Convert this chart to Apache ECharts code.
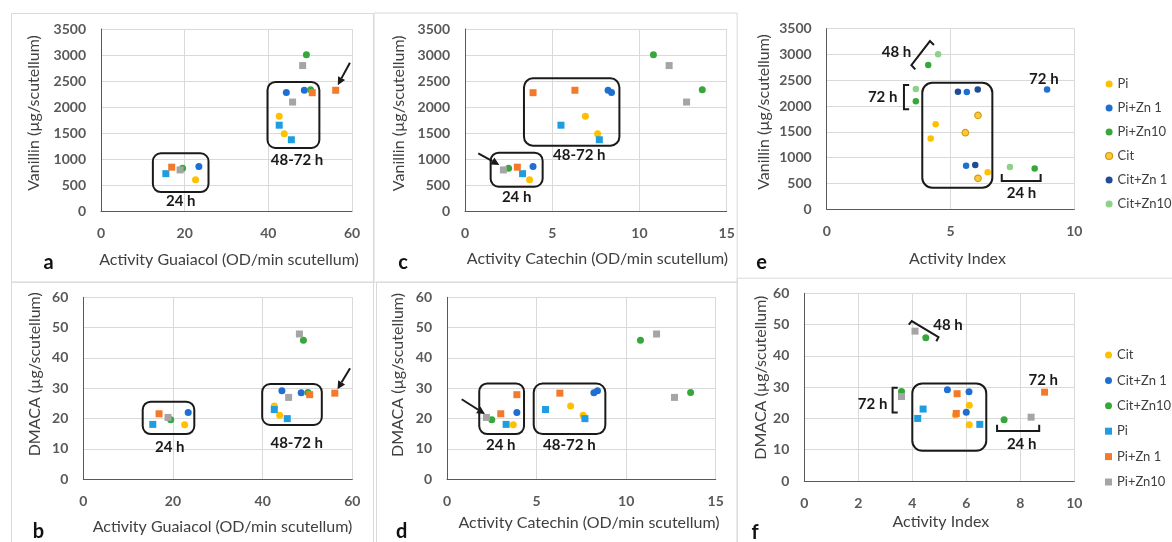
<!DOCTYPE html>
<html>
<head>
<meta charset="utf-8">
<script src="https://cdn.jsdelivr.net/npm/echarts@6/dist/echarts.min.js"></script>
<style>
  html, body { margin: 0; padding: 0; background: #ffffff; }
  #chart { width: 1172px; height: 542px; }
</style>
</head>
<body>
<div id="chart"></div>
<script>
// Treatment groups (row order of every measurement table below)
const groups = ['Cit', 'Cit+Zn 1', 'Cit+Zn10', 'Pi', 'Pi+Zn 1', 'Pi+Zn10'];
// Sampling times (column order of every measurement table below)
const times = ['24 h', '48 h', '72 h'];

// Peroxidase activity with guaiacol (OD/min scutellum)
const guaiacol = [
  [22.6, 42.6, 43.8],
  [23.4, 44.3, 48.6],
  [19.5, 49.1, 50.1],
  [15.5, 42.6, 45.5],
  [16.9, 50.5, 56.1],
  [18.9, 48.2, 45.8]
];
// Peroxidase activity with catechin (OD/min scutellum)
const catechin = [
  [3.7, 6.9, 7.6],
  [3.9, 8.4, 8.2],
  [2.5, 10.8, 13.6],
  [3.3, 5.5, 7.7],
  [3.0, 3.9, 6.3],
  [2.2, 11.7, 12.7]
];
// Activity index
const activityIndex = [
  [6.11, 6.11, 5.6],
  [6.0, 5.3, 6.1],
  [7.4, 4.5, 3.6],
  [6.5, 4.4, 4.2],
  [5.63, 5.66, 8.9],
  [8.4, 4.1, 3.6]
];
// Vanillin assay (µg/scutellum)
const vanillin = [
  [600, 1820, 1485],
  [858, 2280, 2322],
  [822, 3005, 2330],
  [718, 1650, 1370],
  [843, 2275, 2322],
  [790, 2797, 2095]
];
// DMACA assay (µg/scutellum)
const dmaca = [
  [18.0, 24.2, 21.1],
  [22.0, 29.2, 28.5],
  [19.6, 45.8, 28.6],
  [18.1, 23.0, 20.0],
  [21.6, 27.9, 28.4],
  [20.4, 47.9, 27.0]
];

// Legend orders of the two right-hand panels
const legendE = ['Pi', 'Pi+Zn 1', 'Pi+Zn10', 'Cit', 'Cit+Zn 1', 'Cit+Zn10'];
const legendF = ['Cit', 'Cit+Zn 1', 'Cit+Zn10', 'Pi', 'Pi+Zn 1', 'Pi+Zn10'];

const FONT = 'Lato, "Open Sans", "DejaVu Sans", sans-serif';

// Marker styles: panels a–d and f
const markStd = {
  'Cit':      { symbol: 'circle', color: '#FFC000' },
  'Cit+Zn 1': { symbol: 'circle', color: '#1F6FD1' },
  'Cit+Zn10': { symbol: 'circle', color: '#36A83B' },
  'Pi':       { symbol: 'rect',   color: '#1E9DE0' },
  'Pi+Zn 1':  { symbol: 'rect',   color: '#F47A2B' },
  'Pi+Zn10':  { symbol: 'rect',   color: '#A5A5A5' }
};
// Marker styles: panel e
const markE = {
  'Pi':       { symbol: 'circle', color: '#FFC000' },
  'Pi+Zn 1':  { symbol: 'circle', color: '#1F6FD1' },
  'Pi+Zn10':  { symbol: 'circle', color: '#36A83B' },
  'Cit':      { symbol: 'circle', color: '#FFC83A', borderColor: '#D39A10', borderWidth: 1.2 },
  'Cit+Zn 1': { symbol: 'circle', color: '#1E4C96' },
  'Cit+Zn10': { symbol: 'circle', color: '#8FD18B' }
};

const nameGuaiacol = 'Activity Guaiacol (OD/min scutellum)';
const nameCatechin = 'Activity Catechin (OD/min scutellum)';
const nameAI = 'Activity Index';
const nameVan = 'Vanillin (µg/scutellum)';
const nameDm = 'DMACA (µg/scutellum)';

const panels = [
  { xs: guaiacol, ys: vanillin, xMax: 60, xStep: 20, yMax: 3500, yStep: 500, xName: nameGuaiacol, yName: nameVan,
    box: [101, 29, 251, 182], yGap: 59, xGap: 41, yShift: 7, xShift: 2.5, marks: markStd, size: 7 },
  { xs: guaiacol, ys: dmaca, xMax: 60, xStep: 20, yMax: 60, yStep: 10, xName: nameGuaiacol, yName: nameDm,
    box: [83.3, 297.3, 269, 182], yGap: 40.6, xGap: 39.4, yShift: 14, xShift: 4.7, marks: markStd, size: 7 },
  { xs: catechin, ys: vanillin, xMax: 15, xStep: 5, yMax: 3500, yStep: 500, xName: nameCatechin, yName: nameVan,
    box: [465, 29, 261.7, 182], yGap: 57.8, xGap: 40, yShift: 6.7, xShift: 1.6, marks: markStd, size: 7 },
  { xs: catechin, ys: dmaca, xMax: 15, xStep: 5, yMax: 60, yStep: 10, xName: nameCatechin, yName: nameDm,
    box: [447, 297.3, 268.7, 182], yGap: 40.7, xGap: 36, yShift: 13.3, xShift: 7.7, marks: markStd, size: 7 },
  { xs: activityIndex, ys: vanillin, xMax: 10, xStep: 5, yMax: 3500, yStep: 500, xName: nameAI, yName: nameVan,
    box: [826.7, 28.7, 247.6, 180.6], yGap: 54.7, xGap: 41.7, yShift: 7, xShift: 7, marks: markE, size: 6.5 },
  { xs: activityIndex, ys: dmaca, xMax: 10, xStep: 2, yMax: 60, yStep: 10, xName: nameAI, yName: nameDm,
    box: [804.3, 293.3, 270, 187.7], yGap: 35.6, xGap: 32.7, yShift: 9.5, xShift: 1.5, marks: markStd, size: 7 }
];

// Hand-drawn annotations, positioned in each panel's data coordinates
const notes = [
  // a
  { p: 0, kind: 'box', from: [12.4, 1110], to: [25.7, 365], r: 8 },
  { p: 0, kind: 'text', at: [19.05, 198], text: '24 h' },
  { p: 0, kind: 'box', from: [39.8, 2481], to: [52.2, 1212], r: 8 },
  { p: 0, kind: 'text', at: [46.86, 981], text: '48-72 h' },
  { p: 0, kind: 'arrow', from: [59.5, 2852], to: [56.6, 2420] },
  // b
  { p: 1, kind: 'box', from: [13.25, 25.6], to: [24.76, 14.9], r: 8 },
  { p: 1, kind: 'text', at: [19.3, 10.75], text: '24 h' },
  { p: 1, kind: 'box', from: [39.9, 31.4], to: [53.2, 17.9], r: 8 },
  { p: 1, kind: 'text', at: [47.6, 11.9], text: '48-72 h' },
  { p: 1, kind: 'arrow', from: [59.5, 36.6], to: [56.7, 29.7] },
  // c
  { p: 2, kind: 'box', from: [1.47, 1121], to: [4.45, 467], r: 8 },
  { p: 2, kind: 'text', at: [2.96, 275], text: '24 h' },
  { p: 2, kind: 'box', from: [3.38, 2552], to: [8.85, 1256], r: 9 },
  { p: 2, kind: 'text', at: [6.55, 1077], text: '48-72 h' },
  { p: 2, kind: 'arrow', from: [0.76, 1110], to: [1.97, 885] },
  // d
  { p: 3, kind: 'box', from: [1.8, 31.6], to: [4.3, 14.9], r: 8 },
  { p: 3, kind: 'text', at: [3.0, 11.3], text: '24 h' },
  { p: 3, kind: 'box', from: [4.84, 31.6], to: [8.84, 14.9], r: 9 },
  { p: 3, kind: 'text', at: [6.83, 11.3], text: '48-72 h' },
  { p: 3, kind: 'arrow', from: [0.82, 26.4], to: [2.12, 21.5] },
  // e
  { p: 4, kind: 'box', from: [3.86, 2452], to: [6.69, 418], r: 10 },
  { p: 4, kind: 'path', pts: [[3.58, 2712], [3.42, 2795], [4.17, 3260], [4.33, 3183]] },
  { p: 4, kind: 'text', at: [2.82, 3047], text: '48 h' },
  { p: 4, kind: 'path', pts: [[3.33, 2408], [3.12, 2408], [3.12, 1937], [3.33, 1937]] },
  { p: 4, kind: 'text', at: [2.26, 2170], text: '72 h' },
  { p: 4, kind: 'text', at: [8.77, 2524], text: '72 h' },
  { p: 4, kind: 'path', pts: [[7.07, 684], [7.07, 548], [8.64, 548], [8.64, 684]] },
  { p: 4, kind: 'text', at: [7.87, 310], text: '24 h' },
  // f
  { p: 5, kind: 'box', from: [4.0, 31.2], to: [6.74, 9.65], r: 10 },
  { p: 5, kind: 'path', pts: [[3.87, 50.0], [3.98, 51.1], [4.97, 46.0], [4.89, 44.7]] },
  { p: 5, kind: 'text', at: [5.32, 49.9], text: '48 h' },
  { p: 5, kind: 'path', pts: [[3.46, 29.8], [3.27, 29.8], [3.27, 21.9], [3.46, 21.9]] },
  { p: 5, kind: 'text', at: [2.53, 24.5], text: '72 h' },
  { p: 5, kind: 'text', at: [8.85, 32.3], text: '72 h' },
  { p: 5, kind: 'path', pts: [[7.14, 18.0], [7.14, 16.0], [8.70, 16.0], [8.70, 18.0]] },
  { p: 5, kind: 'text', at: [8.05, 11.7], text: '24 h' }
];

// Panel frames and letters (page layout)
const frames = [
  [11, 13, 362, 268.7], [11, 281.7, 362, 262], [373.5, 12.5, 363.2, 269.2],
  [376, 281.7, 360.7, 262], [736.7, 277.7, 440, 270]
];
const letters = [
  ['a', 48.5, 263], ['b', 38.5, 531.5], ['c', 403, 263],
  ['d', 401.7, 531.5], ['e', 761.7, 263], ['f', 755, 533]
];

const chart = echarts.init(document.getElementById('chart'), null, { renderer: 'canvas' });

const grids = [], xAxes = [], yAxes = [], series = [];
panels.forEach((pn, i) => {
  const [l, t, w, h] = pn.box;
  grids.push({ left: l, top: t, width: w, height: h, containLabel: false });
  const common = {
    gridIndex: i, type: 'value', min: 0,
    axisTick: { show: false },
    axisLine: { show: true, onZero: false, lineStyle: { color: '#595959', width: 1 } },
    splitLine: { show: true, lineStyle: { color: '#D9D9D9', width: 1 } },
    axisLabel: { color: '#595959', fontWeight: 'bold', fontSize: 14, fontFamily: FONT, margin: 15,
                 formatter: v => String(v) },
    nameLocation: 'middle'
  };
  xAxes.push(Object.assign({}, common, {
    max: pn.xMax, interval: pn.xStep, name: pn.xName, nameGap: pn.xGap,
    nameTextStyle: { color: '#404040', fontSize: 16, fontFamily: FONT, padding: [0, 0, 0, 2 * pn.xShift] }
  }));
  yAxes.push(Object.assign({}, common, {
    max: pn.yMax, interval: pn.yStep, name: pn.yName, nameGap: pn.yGap,
    nameTextStyle: { color: '#404040', fontSize: 16, fontFamily: FONT, padding: [0, 0, 0, 2 * pn.yShift] }
  }));
  groups.forEach((g, gi) => {
    const st = pn.marks[g];
    series.push({
      type: 'scatter', name: g, xAxisIndex: i, yAxisIndex: i,
      symbol: st.symbol, symbolSize: pn.size,
      itemStyle: { color: st.color, borderColor: st.borderColor || st.color, borderWidth: st.borderWidth || 0, opacity: 1 },
      emphasis: { disabled: true }, silent: true,
      data: times.map((t, k) => [pn.xs[gi][k], pn.ys[gi][k]])
    });
  });
});

function legendItems(names, marks) {
  return names.map(n => {
    const st = marks[n];
    return {
      name: n, icon: st.symbol,
      itemStyle: { color: st.color, borderColor: st.borderColor || st.color, borderWidth: st.borderWidth || 0 }
    };
  });
}

chart.setOption({
  animation: false,
  backgroundColor: '#ffffff',
  grid: grids, xAxis: xAxes, yAxis: yAxes, series: series,
  legend: [
    { orient: 'vertical', left: 1100, top: 71.5, itemWidth: 7, itemHeight: 7, itemGap: 9, selectedMode: false,
      data: legendItems(legendE, markE),
      textStyle: { color: '#404040', fontSize: 13, fontFamily: FONT, lineHeight: 15 } },
    { orient: 'vertical', left: 1100, top: 342.5, itemWidth: 7, itemHeight: 7, itemGap: 10.4, selectedMode: false,
      data: legendItems(legendF, markStd),
      textStyle: { color: '#404040', fontSize: 13, fontFamily: FONT, lineHeight: 15 } }
  ]
});

// Annotation overlay, converted from data to pixel space
const INK = '#1a1a1a';
const els = [];
frames.forEach(f => els.push({
  type: 'rect', z: 0, silent: true,
  shape: { x: f[0] + 0.5, y: f[1] + 0.5, width: f[2], height: f[3] },
  style: { fill: null, stroke: '#D9D9D9', lineWidth: 1 }
}));
letters.forEach(([s, x, y]) => els.push({
  type: 'text', z: 100, silent: true,
  style: { text: s, x: x, y: y, fill: '#111111', font: 'bold 20px ' + FONT,
           textAlign: 'center', textVerticalAlign: 'middle', align: 'center', verticalAlign: 'middle' }
}));
notes.forEach(n => {
  const px = v => chart.convertToPixel({ gridIndex: n.p }, v);
  if (n.kind === 'box') {
    const a = px(n.from), b = px(n.to);
    els.push({ type: 'rect', z: 100, silent: true,
      shape: { x: Math.min(a[0], b[0]), y: Math.min(a[1], b[1]), width: Math.abs(b[0] - a[0]), height: Math.abs(b[1] - a[1]), r: n.r },
      style: { fill: null, stroke: INK, lineWidth: 2 } });
  } else if (n.kind === 'text') {
    const a = px(n.at);
    els.push({ type: 'text', z: 100, silent: true,
      style: { text: n.text, x: a[0], y: a[1], fill: INK, font: 'bold 15px ' + FONT,
               textAlign: 'center', textVerticalAlign: 'middle', align: 'center', verticalAlign: 'middle' } });
  } else if (n.kind === 'path') {
    els.push({ type: 'polyline', z: 100, silent: true,
      shape: { points: n.pts.map(px) }, style: { fill: null, stroke: INK, lineWidth: 2 } });
  } else if (n.kind === 'arrow') {
    const a = px(n.from), b = px(n.to);
    const ang = Math.atan2(b[1] - a[1], b[0] - a[0]);
    const L = 8, W = 4;
    const base = [b[0] - L * Math.cos(ang), b[1] - L * Math.sin(ang)];
    els.push({ type: 'line', z: 100, silent: true,
      shape: { x1: a[0], y1: a[1], x2: base[0], y2: base[1] }, style: { stroke: INK, lineWidth: 2 } });
    els.push({ type: 'polygon', z: 100, silent: true,
      shape: { points: [b,
        [base[0] + W * Math.sin(ang), base[1] - W * Math.cos(ang)],
        [base[0] - W * Math.sin(ang), base[1] + W * Math.cos(ang)]] },
      style: { fill: INK } });
  }
});
chart.setOption({ graphic: { elements: els } });
</script>
</body>
</html>
